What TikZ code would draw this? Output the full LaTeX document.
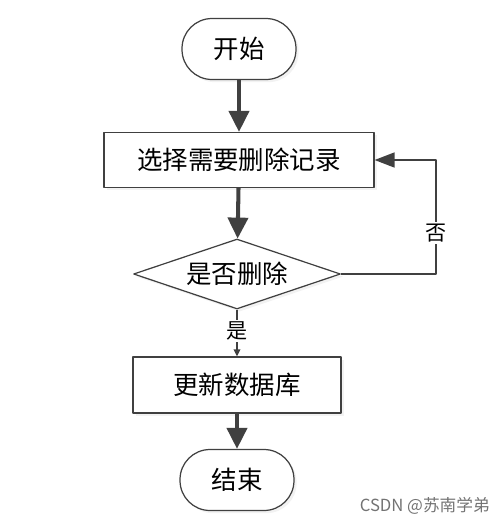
\documentclass[tikz,border=0pt]{standalone}
\usepackage{fontspec}
\newfontfamily\cjk{Noto Sans CJK SC}
\usetikzlibrary{shapes.geometric,arrows.meta,shadows}
\definecolor{linegray}{HTML}{404040}
\tikzset{
  box/.style={draw=black!75, line width=0.7pt, fill=white,
    drop shadow={shadow xshift=1.5pt, shadow yshift=-1.5pt, fill=black!10}},
  terminal/.style={box, rectangle, rounded corners=0.6cm, minimum width=2.28cm, minimum height=1.22cm},
  process/.style={box, rectangle, minimum height=1.1cm},
  decision/.style={box, diamond, inner sep=0pt, aspect=3, minimum width=4.14cm, minimum height=1.4cm},
  flow/.style={draw=linegray, line width=2.3pt, -{Triangle[length=0.42cm, width=0.4cm]}},
  backflow/.style={draw=linegray, line width=0.9pt, -{Triangle[length=0.4cm, width=0.3cm]}},
  yesflow/.style={draw=linegray, line width=1pt, -{Triangle[length=0.14cm, width=0.13cm]}},
  branch/.style={fill=white, inner sep=1pt, font=\cjk\fontsize{12}{14}\selectfont}
}
\begin{document}
\begin{tikzpicture}[x=0.02cm, y=-0.02cm, font=\cjk\fontsize{14.5}{17}\selectfont, line join=round]
\useasboundingbox (0,0) rectangle (499,525);
% nodes
\node[terminal] (start) at (239,49) {开始};
\node[process, minimum width=5.4cm] (select) at (239,160) {选择需要删除记录};
\node[decision] (check) at (237,274) {是否删除};
\node[process, minimum width=4.16cm, minimum height=1.12cm] (update) at (237,385) {更新数据库};
\node[terminal] (stop) at (237,480) {结束};
\coordinate (loop) at (436,160);
% connectors
\draw[flow] (start) -- (select);
\draw[flow] (select) -- (check);
\draw[yesflow] (check) -- node[branch, pos=0.45] {是} (update);
\draw[flow] (update) -- (stop);
\draw[backflow] (check.east) -| node[branch, pos=0.68] {否} (loop) -- (select.east);
% watermark
\node[anchor=east, text=black!55, font=\cjk\fontsize{9.5}{11}\selectfont] (mark) at (496,506) {CSDN @苏南学弟};
\end{tikzpicture}
\end{document}
